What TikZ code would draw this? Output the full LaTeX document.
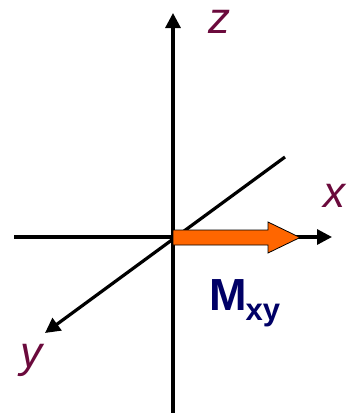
\documentclass[tikz,border=0pt]{standalone}
\usepackage{fontspec}
\setmainfont{Liberation Sans}
\usetikzlibrary{arrows.meta}
\definecolor{lblcol}{HTML}{6B0A3C}
\definecolor{mcol}{HTML}{000066}
\definecolor{orng}{HTML}{FF6600}
\tikzset{
  axis/.style={line width=3.2pt,-{Triangle[length=15pt,width=15pt]}},
  plainaxis/.style={line width=3.2pt},
  axlabel/.style={text=lblcol,font=\fontsize{44}{44}\selectfont\itshape,inner sep=0pt,anchor=base west,text height=24pt},
  magarrow/.style={draw=black,line width=0.8pt,fill=orng}
}
\begin{document}
\begin{tikzpicture}[x=1pt,y=-1pt]
\useasboundingbox (0,0) rectangle (346,413);
\coordinate (O) at (173,237);
\coordinate (ztip) at (173,13);
\coordinate (zbot) at (173,413);
\coordinate (xleft) at (14,237);
\coordinate (xtip) at (332,237);
\coordinate (yback) at (285,157);
\coordinate (ytip) at (45,333);
\draw[plainaxis] (O) -- (zbot);
\draw[axis] (O) -- (ztip);
\draw[plainaxis] (xleft) -- (O);
\draw[axis] (O) -- (xtip);
\draw[axis] (yback) -- (ytip);
\draw[magarrow] (O |- 0,230) -- (268,230) -- (268,222) -- (300,237.5) -- (268,253) -- (268,245) -- (O |- 0,245) -- cycle;
\node[axlabel] (zl) at (208,33) {z};
\node[axlabel] (xl) at (323,207) {x};
\node[axlabel] (yl) at (20,367) {y};
\node[inner sep=0pt,anchor=base west,text=mcol,font=\bfseries\fontsize{45}{45}\selectfont] (M) at (209,310) {M\kern-1pt\raisebox{-10pt}{\fontsize{31}{31}\selectfont xy}};
\end{tikzpicture}
\end{document}
